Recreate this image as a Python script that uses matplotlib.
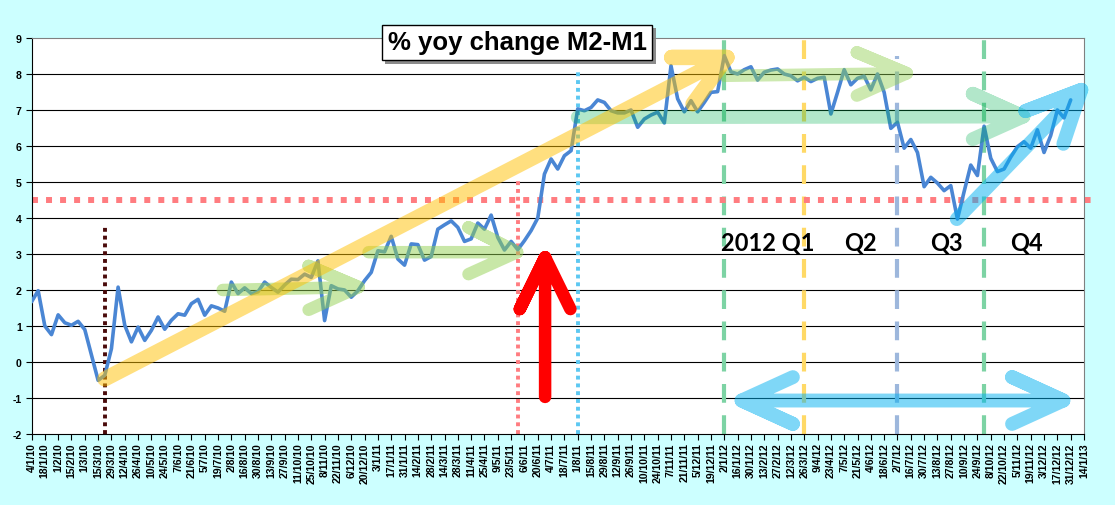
import numpy as np
import pandas as pd
import matplotlib
matplotlib.use("Agg")
import matplotlib.pyplot as plt
from matplotlib import patheffects

# weekly % yoy change of M2-M1, 4/1/10 .. 31/12/12
weeks = pd.date_range("2010-01-04", "2012-12-31", freq="7D")
yoy = [1.67, 1.98, 1.0, 0.76, 1.31, 1.09, 1.02, 1.13, 0.9, 0.2,
       -0.51, -0.37, 0.37, 2.08, 1.02, 0.56, 0.97, 0.6, 0.88, 1.25,
       0.91, 1.16, 1.34, 1.3, 1.62, 1.74, 1.3, 1.56, 1.5, 1.41,
       2.22, 1.9, 2.06, 1.9, 1.95, 2.22, 2.07, 1.94, 2.14, 2.3,
       2.29, 2.44, 2.35, 2.81, 1.15, 2.12, 2.03, 2.0, 1.8, 1.98,
       2.26, 2.49, 3.09, 3.06, 3.49, 2.86, 2.69, 3.28, 3.26, 2.83,
       2.93, 3.69, 3.81, 3.92, 3.74, 3.35, 3.42, 3.86, 3.69, 4.08,
       3.46, 3.11, 3.35, 3.12, 3.37, 3.65, 4.0, 5.22, 5.64, 5.36,
       5.73, 5.87, 7.03, 6.98, 7.07, 7.28, 7.21, 6.98, 6.92, 6.92,
       7.0, 6.52, 6.75, 6.86, 6.94, 6.64, 8.23, 7.31, 6.95, 7.26,
       6.95, 7.21, 7.49, 7.51, 8.51, 8.06, 8.0, 8.12, 8.2, 7.83,
       8.05, 8.11, 8.14, 8.0, 7.95, 7.81, 7.91, 7.79, 7.88, 7.91,
       6.89, 7.49, 8.12, 7.7, 7.88, 7.94, 7.56, 8.0, 7.49, 6.49,
       6.66, 5.94, 6.18, 5.82, 4.87, 5.13, 4.97, 4.76, 4.9, 3.97,
       4.73, 5.47, 5.18, 6.55, 5.66, 5.29, 5.36, 5.69, 5.98, 6.12,
       5.94, 6.45, 5.82, 6.29, 7.0, 6.78, 7.28]

tick_dates = pd.date_range("2010-01-04", "2013-01-14", freq="14D")
tick_labels = [f"{d.day}/{d.month}/{d.year % 100}" for d in tick_dates]
y_ticks = list(range(-2, 10))

quarters = ["2012 Q1", "Q2", "Q3", "Q4"]
quarter_x = [110.6, 124.4, 137.4, 149.4]

plt.rcParams['font.family'] = ['Liberation Sans', 'DejaVu Sans']

fig = plt.figure(figsize=(11.15, 5.06), dpi=100, facecolor='#CCFFFF')
ax = fig.add_axes([31.5/1115, 1 - 435/506, (1084 - 31.5)/1115, (435 - 39)/506])
ax.set_facecolor('white')

x = np.arange(len(yoy))
ax.set_xlim(0, 158)
ax.set_ylim(-2, 9)

# grid
for v in y_ticks[1:-1]:
    ax.axhline(v, color='black', lw=0.8, zorder=1)

# vertical markers
dot = dict(lw=2.8, dashes=(1, 1), clip_on=False, zorder=2)
ax.plot([11, 11], [-2, 3.8], color='#4A0A0A', **dot)
ax.plot([73, 73], [-2, 5.05], color='#FF7C80', **dot)
ax.plot([82, 82], [-2, 8.05], color='#5CC8F2', **dot)
dash = dict(lw=3, dashes=(4.5, 3), clip_on=False, zorder=2)
ax.plot([104, 104], [-2, 9.12], color='#7DD3A4', **dash)
ax.plot([116, 116], [-2, 9.12], color='#FFD966', **dash)
ax.plot([130, 130], [-2, 8.5], color='#9DB7DC', **dash)
ax.plot([143, 143], [-2, 9.12], color='#7DD3A4', **dash)

# 4.5 threshold
ax.plot([0, 160], [4.5, 4.5], color='#FF7C80', lw=4.3, dashes=(1, 1.35),
        clip_on=False, zorder=2)

# data line
ax.plot(x, yoy, color='#4A86D4', lw=2.6, zorder=4,
        solid_joinstyle='round', solid_capstyle='round')


def chevron(start, tip, arm1, arm2, color, lw, alpha, z=5):
    xs = [start[0], tip[0], arm1[0], tip[0], arm2[0]]
    ys = [start[1], tip[1], arm1[1], tip[1], arm2[1]]
    ax.plot(xs, ys, color=color, lw=lw, alpha=alpha, zorder=z,
            solid_capstyle='round', solid_joinstyle='round', clip_on=False)


chevron((28.7, 2.0), (49.1, 2.08), (41.6, 2.67), (41.6, 1.45), '#92D050', 9, 0.5)
chevron((50.6, 3.05), (72.9, 3.05), (65.6, 3.74), (65.6, 2.44), '#92D050', 9, 0.5)
chevron((82, 6.8), (148.9, 6.82), (141.3, 7.45), (141.3, 6.19), '#00B050', 10, 0.3)
chevron((104.1, 7.95), (131.4, 8.02), (123.9, 8.6), (123.9, 7.4), '#92D050', 9, 0.45)
chevron((11.0, -0.47), (104.4, 8.46), (96.1, 8.46), (99.3, 7.17), '#FFC000', 11, 0.5)
chevron((138.9, 3.97), (157.6, 7.56), (149.2, 6.97), (154.9, 6.06), '#00B0F0', 10, 0.5)
# double arrow over Q1..Q4
dbl_x = [114.3, 106.6, 114.3, 106.6, 154.9, 147.2, 154.9, 147.2]
dbl_y = [-0.42, -1.07, -1.72, -1.07, -1.07, -0.42, -1.07, -1.72]
ax.plot(dbl_x, dbl_y, color='#00B0F0', lw=10, alpha=0.5, zorder=5,
        solid_capstyle='round', solid_joinstyle='round')
# red up arrow
chevron((77.1, -0.97), (77.1, 2.91), (73.3, 1.47), (80.9, 1.47), '#FF0000', 9, 1.0, z=6)

# quarter labels
for q, qx in zip(quarters, quarter_x):
    ax.text(qx, 3.33, q, ha='center', va='center', fontsize=17,
            fontweight='bold', family=['Lato', 'DejaVu Sans'], zorder=7)

# axes styling
for s in ['top', 'right']:
    ax.spines[s].set_color('#808080')
for s in ['left', 'bottom']:
    ax.spines[s].set_color('black')
ax.set_xticks(np.arange(0, 159, 2))
ax.set_xticklabels(tick_labels, rotation=90, fontsize=7.6, fontweight='bold')
ax.set_yticks(y_ticks)
ax.set_yticklabels([str(v) for v in y_ticks], fontsize=7.6, fontweight='bold')
ax.tick_params(axis='x', length=4, pad=2, direction='out')
ax.tick_params(axis='y', length=4, pad=3, direction='out')

# title box with shadow
t = fig.text(0.4637, 0.9142, "% yoy change M2-M1", ha='center', va='center',
             fontsize=18.5, fontweight='bold', color='black', zorder=9,
             bbox=dict(boxstyle='square,pad=0.22', fc='white', ec='black', lw=1))
t.get_bbox_patch().set_path_effects([
    patheffects.SimplePatchShadow(offset=(2.5, -2.5), shadow_rgbFace='#808080', alpha=0.9),
    patheffects.Normal()])

fig.savefig("out.png", dpi=100, facecolor=fig.get_facecolor())
